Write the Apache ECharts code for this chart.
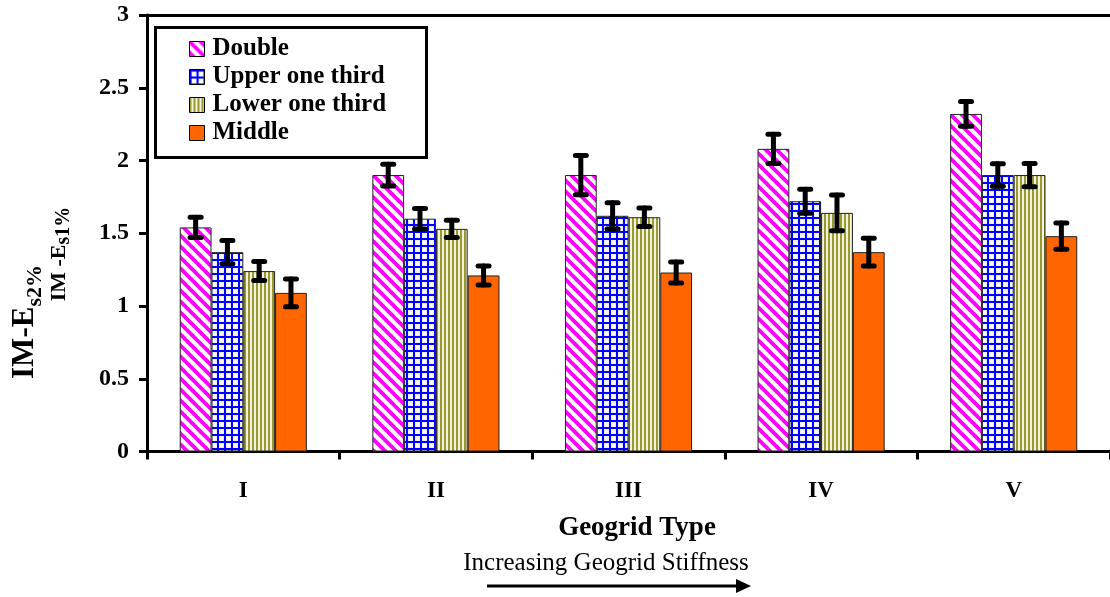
<!DOCTYPE html>
<html>
<head>
<meta charset="utf-8">
<script src="https://cdn.jsdelivr.net/npm/echarts@6/dist/echarts.min.js"></script>
<style>
html,body{margin:0;padding:0;background:#fff;}
#chart{width:1110px;height:597px;}
</style>
</head>
<body>
<div id="chart"></div>
<script>
// ---- data ----
var categories = ['I', 'II', 'III', 'IV', 'V'];
var seriesNames = ['Double', 'Upper one third', 'Lower one third', 'Middle'];
var doubleVals = [1.54, 1.90, 1.90, 2.08, 2.32];
var upperVals  = [1.37, 1.60, 1.62, 1.72, 1.90];
var lowerVals  = [1.24, 1.53, 1.61, 1.64, 1.90];
var middleVals = [1.09, 1.21, 1.23, 1.37, 1.48];
var doubleErr = [0.07, 0.075, 0.135, 0.10, 0.085];
var upperErr  = [0.08, 0.07, 0.09, 0.082, 0.077];
var lowerErr  = [0.065, 0.06, 0.063, 0.123, 0.08];
var middleErr = [0.095, 0.065, 0.072, 0.095, 0.09];
var yTicks = [0, 0.5, 1, 1.5, 2, 2.5, 3];

var values = [doubleVals, upperVals, lowerVals, middleVals];
var errs = [doubleErr, upperErr, lowerErr, middleErr];

// ---- patterns ----
function makeCanvas(w, h, draw) {
  var c = document.createElement('canvas');
  c.width = w; c.height = h;
  var ctx = c.getContext('2d');
  draw(ctx, w, h);
  return c;
}
var diagCanvas = makeCanvas(11, 11, function (ctx, w, h) {
  ctx.fillStyle = '#ffffff'; ctx.fillRect(0, 0, w, h);
  ctx.strokeStyle = '#ff00ff'; ctx.lineWidth = 3.8;
  for (var k = -1; k <= 1; k++) {
    ctx.beginPath();
    ctx.moveTo(k * w - 2, -2);
    ctx.lineTo(k * w + w + 2, h + 2);
    ctx.stroke();
  }
});
var gridCanvas = makeCanvas(7, 7, function (ctx, w, h) {
  ctx.fillStyle = '#eef0ff'; ctx.fillRect(0, 0, w, h);
  ctx.fillStyle = '#ffffff'; ctx.fillRect(3, 3, 3, 3);
  ctx.fillStyle = '#0000ff';
  ctx.fillRect(0, 0, 2, h);
  ctx.fillRect(0, 0, w, 2);
});
var vertCanvas = makeCanvas(4, 4, function (ctx, w, h) {
  ctx.fillStyle = '#f4f4dc'; ctx.fillRect(0, 0, w, h);
  ctx.fillStyle = '#999933'; ctx.fillRect(0, 0, 2, h);
});
var fills = [
  { image: diagCanvas, repeat: 'repeat' },
  { image: gridCanvas, repeat: 'repeat' },
  { image: vertCanvas, repeat: 'repeat' },
  '#ff6600'
];

var FONT = '"Liberation Serif", "Times New Roman", serif';
var GAP = 0.34;

var series = [];
for (var s = 0; s < 4; s++) {
  series.push({
    name: seriesNames[s],
    type: 'bar',
    data: values[s],
    barGap: '0%',
    barCategoryGap: (GAP * 100) + '%',
    itemStyle: { color: fills[s], borderColor: '#222', borderWidth: 1 },
    emphasis: { disabled: true },
    z: 2
  });
}
for (var s2 = 0; s2 < 4; s2++) {
  (function (si) {
    var d = [];
    for (var i = 0; i < categories.length; i++) d.push([i, values[si][i], errs[si][i]]);
    series.push({
      type: 'custom',
      name: 'err' + si,
      data: d,
      z: 5,
      silent: true,
      renderItem: function (params, api) {
        var idx = api.value(0), v = api.value(1), e = api.value(2);
        var band = api.size([1, 0])[0];
        var w = band * (1 - GAP) / 4;
        var base = api.coord([idx, v]);
        var cx = base[0] + (si - 1.5) * w;
        var top = api.coord([idx, v + e])[1];
        var bot = api.coord([idx, v - e])[1];
        var st = { stroke: '#000', lineWidth: 5, lineCap: 'round' };
        var hw = 5.5;
        return {
          type: 'group',
          children: [
            { type: 'line', shape: { x1: cx, y1: top, x2: cx, y2: bot }, style: st },
            { type: 'line', shape: { x1: cx - hw, y1: top, x2: cx + hw, y2: top }, style: st },
            { type: 'line', shape: { x1: cx - hw, y1: bot, x2: cx + hw, y2: bot }, style: st }
          ]
        };
      }
    });
  })(s2);
}

var chart = echarts.init(document.getElementById('chart'), null, { renderer: 'canvas' });
chart.setOption({
  animation: false,
  backgroundColor: '#ffffff',
  grid: { left: 147, top: 15, width: 966, bottom: 145.5, containLabel: false },
  legend: {
    data: seriesNames,
    orient: 'vertical',
    left: 184,
    top: 30,
    itemWidth: 15,
    itemHeight: 15,
    itemGap: 0,
    icon: 'rect',
    selectedMode: false,
    textStyle: { fontFamily: FONT, fontWeight: 'bold', fontSize: 25, color: '#000', lineHeight: 28, padding: [0, 0, 0, 3] },
    itemStyle: { borderColor: '#000', borderWidth: 1 }
  },
  xAxis: [{
    type: 'category',
    data: categories,
    axisLine: { lineStyle: { color: '#000', width: 3 } },
    axisTick: { show: true, length: 8, lineStyle: { color: '#000', width: 3 } },
    axisLabel: { fontFamily: FONT, fontWeight: 'bold', fontSize: 23, color: '#000', margin: 28 },
    splitLine: { show: false }
  }, {
    type: 'category',
    data: categories,
    position: 'top',
    axisLine: { lineStyle: { color: '#000', width: 3 } },
    axisTick: { show: false },
    axisLabel: { show: false },
    splitLine: { show: false }
  }],
  yAxis: {
    type: 'value',
    min: yTicks[0],
    max: yTicks[yTicks.length - 1],
    interval: 0.5,
    axisLine: { show: true, lineStyle: { color: '#000', width: 3 } },
    axisTick: { show: true, length: 8, lineStyle: { color: '#000', width: 3 } },
    axisLabel: { fontFamily: FONT, fontWeight: 'bold', fontSize: 24, color: '#000', margin: 18 },
    splitLine: { show: false }
  },
  series: series,
  graphic: [
    {
      type: 'rect', left: 154, top: 26, z: 0,
      shape: { width: 271, height: 130 },
      style: { fill: '#fff', stroke: '#000', lineWidth: 3 }
    },
    {
      type: 'text', x: 25, y: 322, rotation: Math.PI / 2,
      style: {
        text: '{a|IM-E}{b|s2%}',
        align: 'center', verticalAlign: 'middle',
        rich: {
          a: { fontFamily: FONT, fontWeight: 'bold', fontSize: 31, color: '#000', lineHeight: 34 },
          b: { fontFamily: FONT, fontWeight: 'bold', fontSize: 22, color: '#000', lineHeight: 22, verticalAlign: 'bottom', padding: [0, 0, -4, 0] }
        }
      }
    },
    {
      type: 'text', x: 59, y: 254, rotation: Math.PI / 2,
      style: {
        text: '{a|IM -E}{b|s1%}',
        align: 'center', verticalAlign: 'middle',
        rich: {
          a: { fontFamily: FONT, fontWeight: 'bold', fontSize: 22, color: '#000', lineHeight: 24 },
          b: { fontFamily: FONT, fontWeight: 'bold', fontSize: 20, color: '#000', lineHeight: 18, verticalAlign: 'bottom', padding: [0, 0, -3, 0] }
        }
      }
    },
    {
      type: 'text', x: 637, y: 528,
      style: { text: 'Geogrid Type', fontFamily: FONT, fontWeight: 'bold', fontSize: 27, fill: '#000', align: 'center', verticalAlign: 'middle' }
    },
    {
      type: 'text', x: 606, y: 563,
      style: { text: 'Increasing Geogrid Stiffness', fontFamily: FONT, fontSize: 25, fill: '#000', align: 'center', verticalAlign: 'middle' }
    },
    {
      type: 'line', shape: { x1: 487, y1: 586, x2: 740, y2: 586 },
      style: { stroke: '#000', lineWidth: 3 }
    },
    {
      type: 'polygon', shape: { points: [[736, 579], [751, 586], [736, 593]] },
      style: { fill: '#000' }
    }
  ]
});
</script>
</body>
</html>
